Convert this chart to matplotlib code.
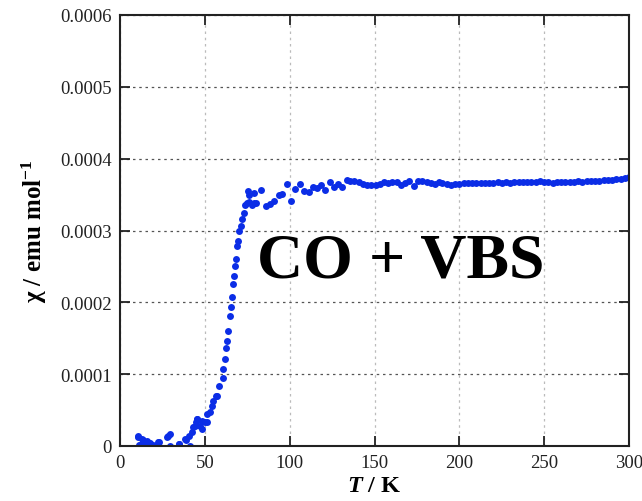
import matplotlib
matplotlib.use("Agg")
import matplotlib.pyplot as plt
import numpy as np

plt.rcParams['mathtext.fontset'] = 'custom'
plt.rcParams['mathtext.rm'] = 'Liberation Serif:bold'
plt.rcParams['mathtext.it'] = 'Liberation Serif:bold:italic'
plt.rcParams['mathtext.bf'] = 'Liberation Serif:bold'
plt.rcParams['mathtext.default'] = 'rm'

# Temperature (K) and susceptibility (units of 1e-4 emu/mol)
T_low = [10.4, 10.8, 11.4, 11.8, 12.8, 13.5, 14.8, 15.7, 17.3, 17.7, 19.6, 19.7, 21.7,
         22.6, 23.2, 27.5, 28.5, 29.5, 29.5, 34.8, 35.0, 38.4, 38.9, 40.4, 41.3, 42.3,
         43.3, 44.3, 44.7, 45.3, 45.6, 47.2, 48.2, 48.2, 50.2, 51.1, 51.1, 53.1, 54.5,
         55.1, 56.5, 57.1]
chi_low = [0.13, 0.135, 0.02, 0.02, 0.10, 0.09, 0.05, 0.074, 0.04, 0.037, 0.005, 0.02,
           0.005, 0.05, 0.05, 0.12, 0.143, 0.17, 0.0, 0.028, 0.03, 0.097, 0.09, 0.143,
           0.0, 0.19, 0.26, 0.28, 0.33, 0.375, 0.375, 0.28, 0.35, 0.24, 0.33, 0.33, 0.44,
           0.47, 0.56, 0.63, 0.70, 0.70]

T_mid = [58.6, 60.6, 60.6, 61.6, 62.6, 63.0, 63.9, 65.0, 65.5, 66.0, 66.6, 67.0, 67.6,
         68.3, 68.9, 69.5, 70.4, 71.2, 71.8, 72.8, 73.4, 74.8, 75.7, 76.3, 76.3, 77.7,
         78.7, 79.0, 80.3, 83.0, 86.2, 88.6, 90.9, 93.5, 95.4, 98.4, 100.7, 103.3, 105.9,
         108.7, 111.2, 113.8, 116.2, 118.5, 121.0, 123.6, 126.0, 128.3, 130.9, 133.5,
         135.8, 138.2, 140.7, 143.3, 145.7, 148.0, 150.6, 153.1, 155.5, 157.8, 160.4,
         163.0, 165.4, 167.7, 170.3, 173.2, 175.6, 178.2, 180.7, 183.1, 185.4, 188.0]
chi_mid = [0.84, 0.95, 1.07, 1.21, 1.37, 1.46, 1.60, 1.81, 1.93, 2.08, 2.25, 2.37, 2.51,
           2.60, 2.78, 2.85, 2.99, 3.06, 3.16, 3.24, 3.36, 3.38, 3.55, 3.39, 3.49, 3.36,
           3.38, 3.52, 3.38, 3.56, 3.34, 3.37, 3.41, 3.50, 3.51, 3.65, 3.41, 3.58, 3.65,
           3.55, 3.53, 3.60, 3.59, 3.63, 3.57, 3.67, 3.61, 3.65, 3.61, 3.70, 3.69, 3.69,
           3.68, 3.65, 3.63, 3.63, 3.64, 3.65, 3.67, 3.66, 3.67, 3.67, 3.63, 3.66, 3.69,
           3.62, 3.69, 3.69, 3.67, 3.66, 3.65, 3.67]

T_high = [190.0, 192.5, 195.0, 197.5, 200.0, 202.5, 205.0, 207.5, 210.0, 212.5, 215.0,
          217.5, 220.0, 222.5, 225.0, 227.5, 230.0, 232.5, 235.0, 237.5, 240.0, 242.5,
          245.0, 247.5, 250.0, 252.5, 255.0, 257.5, 260.0, 262.5, 265.0, 267.5, 270.0,
          272.5, 275.0, 277.5, 280.0, 282.5, 285.0, 287.5, 290.0, 292.5, 295.0, 297.5,
          300.0]
chi_high = [3.66, 3.65, 3.64, 3.645, 3.65, 3.655, 3.66, 3.655, 3.66, 3.665, 3.66, 3.665,
            3.66, 3.67, 3.665, 3.67, 3.665, 3.67, 3.675, 3.67, 3.675, 3.68, 3.68, 3.685,
            3.68, 3.67, 3.665, 3.67, 3.675, 3.68, 3.675, 3.68, 3.685, 3.68, 3.69, 3.695,
            3.69, 3.695, 3.70, 3.70, 3.705, 3.71, 3.72, 3.73, 3.74]

x_ticks = [0, 50, 100, 150, 200, 250, 300]
y_ticks = [0, 0.0001, 0.0002, 0.0003, 0.0004, 0.0005, 0.0006]
y_tick_labels = ["0", "0.0001", "0.0002", "0.0003", "0.0004", "0.0005", "0.0006"]

T = np.array(T_low + T_mid + T_high)
chi = np.array(chi_low + chi_mid + chi_high) * 1e-4

fig = plt.figure(figsize=(6.42, 5.02), dpi=100)
ax = fig.add_axes([120 / 642, 55 / 502, 509 / 642, 431 / 502])

ax.plot(T, chi, 'o', color='#0b2de6', markersize=5.0, markeredgewidth=0)

ax.set_xlim(0, 300)
ax.set_ylim(0, 0.0006)
ax.set_xticks(x_ticks)
ax.set_xticklabels([str(v) for v in x_ticks])
ax.set_yticks(y_ticks)
ax.set_yticklabels(y_tick_labels)

serif = ['Liberation Serif', 'DejaVu Serif']
for lab in ax.get_xticklabels() + ax.get_yticklabels():
    lab.set_family(serif)
    lab.set_fontsize(13.5)

ax.tick_params(direction='in', length=7, width=1.3, top=True, right=True,
               pad=6, colors='#222222')
ax.tick_params(axis='x', pad=6)

ax.yaxis.grid(True, linestyle=(0, (2, 3)), color='#555555', linewidth=0.9)
ax.xaxis.grid(True, linestyle=(0, (2, 3)), color='#bbbbbb', linewidth=0.9)
ax.set_axisbelow(True)

for s in ax.spines.values():
    s.set_linewidth(1.5)
    s.set_color('#222222')

ax.set_xlabel(r'$\mathit{T}$ / K', fontsize=17.5, fontweight='bold',
              family=serif, labelpad=3)
ax.set_ylabel(r'χ / emu mol$^{-1}$', fontsize=18, fontweight='bold',
              family=serif, labelpad=8)

ax.text(0.552, 0.428, 'CO + VBS', transform=ax.transAxes, fontsize=46,
        fontweight='bold', family=serif, ha='center', va='center', color='black')

fig.savefig('out.png', dpi=100)
